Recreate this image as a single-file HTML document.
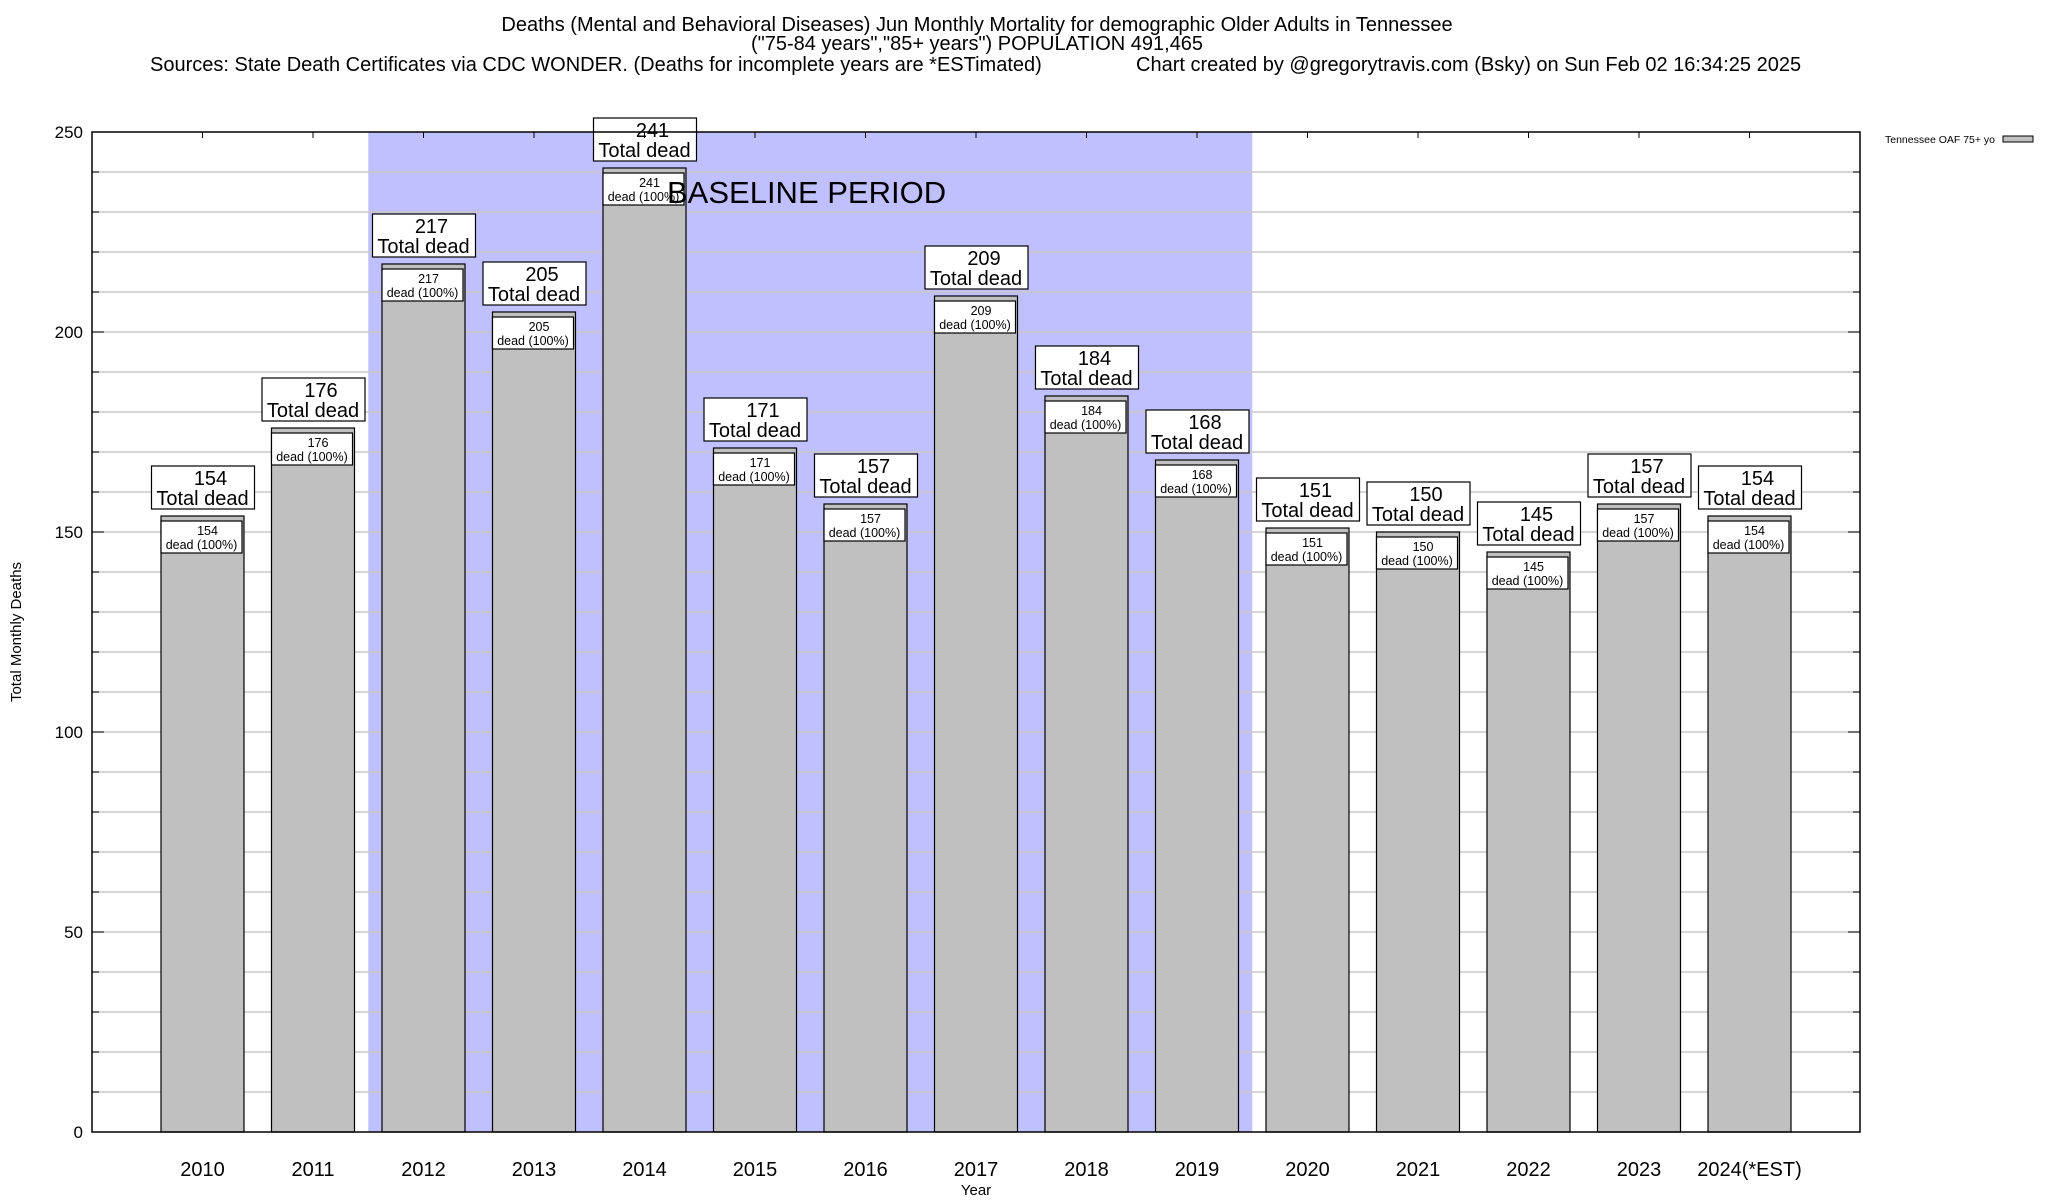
<!DOCTYPE html>
<html><head><meta charset="utf-8"><style>
html,body{margin:0;padding:0;background:#fff}
svg{display:block;font-family:"Liberation Sans",sans-serif}
</style></head><body>
<svg id="chart" width="2048" height="1200" viewBox="0 0 2048 1200" xmlns="http://www.w3.org/2000/svg">
<g font-size="20" fill="#000">
<text x="977" y="31" text-anchor="middle">Deaths (Mental and Behavioral Diseases) Jun Monthly Mortality for demographic Older Adults in Tennessee</text>
<text x="977" y="50" text-anchor="middle">("75-84 years","85+ years") POPULATION 491,465</text>
<text x="150" y="71">Sources: State Death Certificates via CDC WONDER. (Deaths for incomplete years are *ESTimated)</text>
<text x="1136" y="71">Chart created by @gregorytravis.com (Bsky) on Sun Feb 02 16:34:25 2025</text>
</g>
<g id="plot"></g>
</svg>
<script>
const categories = ["2010","2011","2012","2013","2014","2015","2016","2017","2018","2019","2020","2021","2022","2023","2024(*EST)"];
const values = [154,176,217,205,241,171,157,209,184,168,151,150,145,157,154];
const yTicks = [0,50,100,150,200,250];
const baselineStart = 2; // index of first baseline year (2012)
const baselineEnd = 9;   // index of last baseline year (2019)

const L=92,R=1860,T=132,B=1132;
const xs = i => L + (i+1)*(R-L)/16;
const ys = v => B - (v/250)*(B-T);
const NS="http://www.w3.org/2000/svg";
const g=document.getElementById('plot');
function mk(tag,attrs,parent){const e=document.createElementNS(NS,tag);for(const k in attrs)e.setAttribute(k,attrs[k]);(parent||g).appendChild(e);return e;}

// baseline band
const bx0=(xs(baselineStart-1)+xs(baselineStart))/2, bx1=(xs(baselineEnd)+xs(baselineEnd+1))/2;
const band=mk('rect',{x:bx0,y:T,width:bx1-bx0,height:B-T,fill:'#c0c0ff'});



// grid
for(let v=10;v<250;v+=10){
  const gl=mk('line',{x1:L,x2:R,y1:ys(v),y2:ys(v),stroke:'#c8c8c8','stroke-width':1.5});
  
  
  mk('line',{x1:L,x2:L+7,y1:ys(v),y2:ys(v),stroke:'#000','stroke-width':1});
  mk('line',{x1:R-7,x2:R,y1:ys(v),y2:ys(v),stroke:'#000','stroke-width':1});
}
// y ticks
yTicks.forEach(v=>{
  const t=mk('text',{x:L-9,y:ys(v)+6,'text-anchor':'end','font-size':17});
  t.textContent=v;
  
  
  mk('line',{x1:L,x2:L+12,y1:ys(v),y2:ys(v),stroke:'#000','stroke-width':1});
  mk('line',{x1:R-12,x2:R,y1:ys(v),y2:ys(v),stroke:'#000','stroke-width':1});
});

const bw=83;
categories.forEach((c,i)=>{
  const cx=xs(i), v=values[i], top=ys(v);
  const bar=mk('rect',{x:cx-bw/2,y:top,width:bw,height:B-top,fill:'#c0c0c0',stroke:'#000','stroke-width':1.2});
  
  
  const ib=mk('rect',{x:cx-bw/2,y:top+5,width:bw-2,height:32,fill:'#fff',stroke:'#000','stroke-width':1.2});
  
  
  const t1=mk('text',{x:cx+5,y:top+19,'text-anchor':'middle','font-size':12.5});
  t1.textContent=v;
  const t2=mk('text',{x:cx-1,y:top+33,'text-anchor':'middle','font-size':12.5});
  t2.textContent='dead (100%)';
  const ob=mk('rect',{x:cx-51,y:top-50,width:103,height:43,fill:'#fff',stroke:'#000','stroke-width':1.2});
  
  
  const t3=mk('text',{x:cx+8,y:top-31,'text-anchor':'middle','font-size':20});
  t3.textContent=v;
  const t4=mk('text',{x:cx,y:top-11,'text-anchor':'middle','font-size':20});
  t4.textContent='Total dead';
  const xl=mk('text',{x:cx,y:1176,'text-anchor':'middle','font-size':20});
  xl.textContent=c;
  
  
  mk('line',{x1:cx,x2:cx,y1:T,y2:T+6,stroke:'#000','stroke-width':1});
});

// baseline label on top
const bl=mk('text',{x:667,y:203,'font-size':31});
bl.textContent='BASELINE PERIOD';



const fr=mk('rect',{x:L,y:T,width:R-L,height:B-T,fill:'none',stroke:'#000','stroke-width':1.5});



const yt=mk('text',{x:0,y:0,'text-anchor':'middle','font-size':15,transform:'translate(21,632) rotate(-90)'});
yt.textContent='Total Monthly Deaths';


const xt=mk('text',{x:976,y:1195,'text-anchor':'middle','font-size':15});
xt.textContent='Year';



const lg=mk('text',{x:1885,y:143,'font-size':10.5});
lg.textContent='Tennessee OAF 75+ yo';


const ls=mk('rect',{x:2003,y:136,width:30,height:6,fill:'#c0c0c0',stroke:'#000','stroke-width':1});


</script>
</body></html>
